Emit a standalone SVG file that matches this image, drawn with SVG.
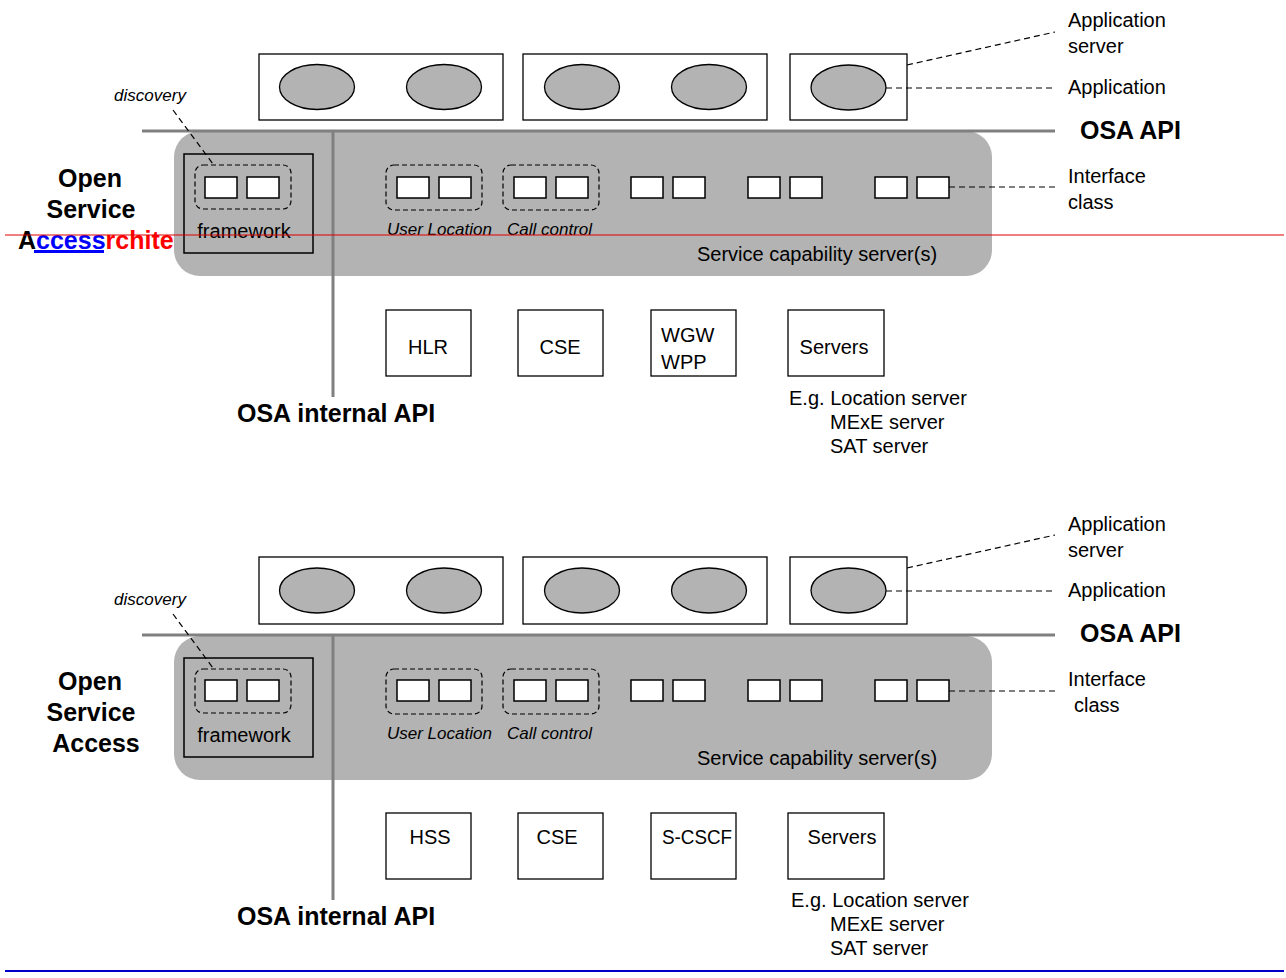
<svg xmlns="http://www.w3.org/2000/svg" width="1286" height="978" viewBox="0 0 1286 978">
<style>
  text { font-family: "Liberation Sans", Arial, sans-serif; fill: #000; }
  .t { font-size: 20px; }
  .i { font-size: 17px; font-style: italic; }
  .b { font-size: 25px; font-weight: bold; }
  .box { fill: #fff; stroke: #000; stroke-width: 1.3; }
  .app { fill: #b3b3b3; stroke: #000; stroke-width: 1.3; }
  .ic { fill: #fff; stroke: #000; stroke-width: 1.5; }
  .grp { fill: none; stroke: #000; stroke-width: 1.2; stroke-dasharray: 5 3; }
  .dash { fill: none; stroke: #000; stroke-width: 1.2; stroke-dasharray: 6 4; }
  .api { stroke: #808080; stroke-width: 3; fill: none; }
  .scs { fill: #b3b3b3; stroke: none; }
  .fw { fill: none; stroke: #000; stroke-width: 1.5; }
</style>
<defs>
  <g id="pair">
    <rect class="ic" x="0" y="0" width="32" height="21"/>
    <rect class="ic" x="42" y="0" width="32" height="21"/>
  </g>
</defs>

<!-- ============ TOP SECTION ============ -->
<g id="top">
  <g id="scs-top">
    <rect class="scs" x="174" y="131" width="818" height="145" rx="26"/>
    <text class="t" x="697" y="261">Service capability server(s)</text>
  </g>
  <g id="app-server-1-top">
    <rect class="box" x="259" y="54" width="244" height="66"/>
    <ellipse class="app" cx="317" cy="87" rx="37.5" ry="22.5"/>
    <ellipse class="app" cx="444" cy="87" rx="37.5" ry="22.5"/>
  </g>
  <g id="app-server-2-top">
    <rect class="box" x="523" y="54" width="244" height="66"/>
    <ellipse class="app" cx="582" cy="87" rx="37.5" ry="22.5"/>
    <ellipse class="app" cx="709" cy="87" rx="37.5" ry="22.5"/>
  </g>
  <g id="app-server-3-top">
    <rect class="box" x="790" y="54" width="117" height="66"/>
    <ellipse class="app" cx="848.5" cy="87.5" rx="37.5" ry="22.5"/>
  </g>
  <g id="framework-top">
    <rect class="fw" x="184" y="154" width="129" height="99"/>
    <rect class="grp" x="195" y="165" width="96" height="44" rx="8"/>
    <use href="#pair" x="205" y="177"/>
    <text class="t" x="244" y="238" text-anchor="middle">framework</text>
  </g>
  <g id="user-location-top">
    <rect class="grp" x="386" y="165" width="96" height="45" rx="8"/>
    <use href="#pair" x="397" y="177"/>
    <text class="i" x="387" y="235">User Location</text>
  </g>
  <g id="call-control-top">
    <rect class="grp" x="503" y="165" width="96" height="45" rx="8"/>
    <use href="#pair" x="514" y="177"/>
    <text class="i" x="507" y="235">Call control</text>
  </g>
  <g id="if-3-top"><use href="#pair" x="631" y="177"/></g>
  <g id="if-4-top"><use href="#pair" x="748" y="177"/></g>
  <g id="if-5-top"><use href="#pair" x="875" y="177"/></g>

  <g id="hlr">
    <rect class="box" x="386" y="310" width="85" height="66"/>
    <text class="t" x="428" y="354" text-anchor="middle">HLR</text>
  </g>
  <g id="cse-top">
    <rect class="box" x="518" y="310" width="85" height="66"/>
    <text class="t" x="560" y="354" text-anchor="middle">CSE</text>
  </g>
  <g id="wgw-wpp">
    <rect class="box" x="651" y="310" width="85" height="66"/>
    <text class="t" x="661" y="342">WGW</text>
    <text class="t" x="661" y="369">WPP</text>
  </g>
  <g id="servers-top">
    <rect class="box" x="788" y="310" width="96" height="66"/>
    <text class="t" x="834" y="354" text-anchor="middle">Servers</text>
    <text class="t" x="789" y="405">E.g. Location server</text>
    <text class="t" x="830" y="429">MExE server</text>
    <text class="t" x="830" y="453">SAT server</text>
  </g>

  <g id="labels-top">
    <text class="i" x="150" y="101" text-anchor="middle">discovery</text>
    <text class="b" x="90" y="187" text-anchor="middle">Open</text>
    <text class="b" x="91" y="218" text-anchor="middle">Service</text>
    <text class="b" x="18" y="249">A<tspan fill="#0000ff">ccess</tspan><tspan fill="#ff0000">rchite</tspan></text>
    <rect x="34" y="250" width="70" height="3" fill="#0000ff"/>
    <text class="b" x="237" y="422">OSA internal API</text>
    <text class="b" x="1080" y="139">OSA API</text>
    <text class="t" x="1068" y="27">Application</text>
    <text class="t" x="1068" y="53">server</text>
    <text class="t" x="1068" y="94">Application</text>
    <text class="t" x="1068" y="183">Interface</text>
    <text class="t" x="1068" y="209">class</text>
  </g>
</g>

<!-- ============ BOTTOM SECTION ============ -->
<g id="bottom">
  <g id="scs-bottom">
    <rect class="scs" x="174" y="636" width="818" height="144" rx="26"/>
    <text class="t" x="697" y="765">Service capability server(s)</text>
  </g>
  <g id="app-server-1-bottom">
    <rect class="box" x="259" y="557" width="244" height="67"/>
    <ellipse class="app" cx="317" cy="590.5" rx="37.5" ry="22.5"/>
    <ellipse class="app" cx="444" cy="590.5" rx="37.5" ry="22.5"/>
  </g>
  <g id="app-server-2-bottom">
    <rect class="box" x="523" y="557" width="244" height="67"/>
    <ellipse class="app" cx="582" cy="590.5" rx="37.5" ry="22.5"/>
    <ellipse class="app" cx="709" cy="590.5" rx="37.5" ry="22.5"/>
  </g>
  <g id="app-server-3-bottom">
    <rect class="box" x="790" y="557" width="117" height="67"/>
    <ellipse class="app" cx="848.5" cy="590.5" rx="37.5" ry="22.5"/>
  </g>
  <g id="framework-bottom">
    <rect class="fw" x="184" y="658" width="129" height="99"/>
    <rect class="grp" x="195" y="669" width="96" height="44" rx="8"/>
    <use href="#pair" x="205" y="680"/>
    <text class="t" x="244" y="742" text-anchor="middle">framework</text>
  </g>
  <g id="user-location-bottom">
    <rect class="grp" x="386" y="669" width="96" height="45" rx="8"/>
    <use href="#pair" x="397" y="680"/>
    <text class="i" x="387" y="739">User Location</text>
  </g>
  <g id="call-control-bottom">
    <rect class="grp" x="503" y="669" width="96" height="45" rx="8"/>
    <use href="#pair" x="514" y="680"/>
    <text class="i" x="507" y="739">Call control</text>
  </g>
  <g id="if-3-bottom"><use href="#pair" x="631" y="680"/></g>
  <g id="if-4-bottom"><use href="#pair" x="748" y="680"/></g>
  <g id="if-5-bottom"><use href="#pair" x="875" y="680"/></g>

  <g id="hss">
    <rect class="box" x="386" y="813" width="85" height="66"/>
    <text class="t" x="430" y="844" text-anchor="middle">HSS</text>
  </g>
  <g id="cse-bottom">
    <rect class="box" x="518" y="813" width="85" height="66"/>
    <text class="t" x="557" y="844" text-anchor="middle">CSE</text>
  </g>
  <g id="s-cscf">
    <rect class="box" x="651" y="813" width="85" height="66"/>
    <text class="t" x="697" y="844" text-anchor="middle" textLength="70" lengthAdjust="spacingAndGlyphs">S-CSCF</text>
  </g>
  <g id="servers-bottom">
    <rect class="box" x="788" y="813" width="96" height="66"/>
    <text class="t" x="842" y="844" text-anchor="middle">Servers</text>
    <text class="t" x="791" y="907">E.g. Location server</text>
    <text class="t" x="830" y="931">MExE server</text>
    <text class="t" x="830" y="955">SAT server</text>
  </g>

  <g id="labels-bottom">
    <text class="i" x="150" y="605" text-anchor="middle">discovery</text>
    <text class="b" x="90" y="690" text-anchor="middle">Open</text>
    <text class="b" x="91" y="721" text-anchor="middle">Service</text>
    <text class="b" x="96" y="752" text-anchor="middle">Access</text>
    <text class="b" x="237" y="925">OSA internal API</text>
    <text class="b" x="1080" y="642">OSA API</text>
    <text class="t" x="1068" y="531">Application</text>
    <text class="t" x="1068" y="557">server</text>
    <text class="t" x="1068" y="597">Application</text>
    <text class="t" x="1068" y="686">Interface</text>
    <text class="t" x="1074" y="712">class</text>
  </g>
</g>

<!-- ============ CONNECTORS / LINES ============ -->
<g id="connectors">
  <line class="api" x1="142" y1="131" x2="1055" y2="131"/>
  <line class="api" x1="333" y1="131" x2="333" y2="397"/>
  <line class="dash" x1="173" y1="110" x2="213" y2="164"/>
  <line class="dash" x1="886" y1="88" x2="1055" y2="88"/>
  <line class="dash" x1="907" y1="65" x2="1055" y2="32"/>
  <line class="dash" x1="949" y1="187" x2="1055" y2="187"/>

  <line class="api" x1="142" y1="635" x2="1055" y2="635"/>
  <line class="api" x1="333" y1="635" x2="333" y2="900"/>
  <line class="dash" x1="173" y1="614" x2="213" y2="668"/>
  <line class="dash" x1="886" y1="591" x2="1055" y2="591"/>
  <line class="dash" x1="907" y1="568" x2="1055" y2="535"/>
  <line class="dash" x1="949" y1="691" x2="1055" y2="691"/>

  <line x1="5" y1="235" x2="1284" y2="235" stroke="#e00000" stroke-width="1.2"/>
  <line x1="5" y1="971" x2="1284" y2="971" stroke="#0000c8" stroke-width="2"/>
</g>
</svg>
